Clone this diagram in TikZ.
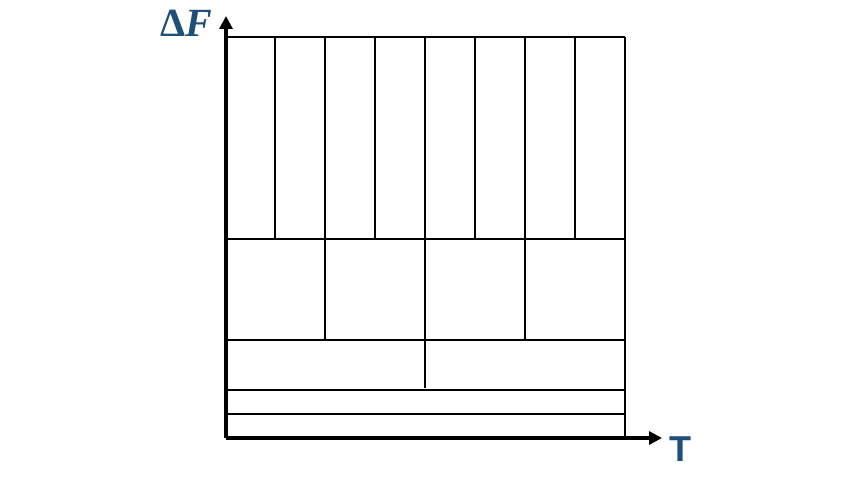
\documentclass[tikz,border=0pt]{standalone}
\usepackage{amsmath,amssymb}
\usepackage{fontspec}
\usepackage{xcolor}
\usetikzlibrary{positioning,arrows.meta,calc}
\newfontfamily\axisfont{Liberation Sans}
\newfontfamily\dffont{Liberation Serif}
\definecolor{lbl}{RGB}{31,78,121}

\begin{document}
\begin{tikzpicture}[x=1pt,y=-1pt,>={Triangle[length=13pt,width=13pt]},
  axs/.style={line width=3.2pt,->},
  grd/.style={line width=1.5pt},
  lbls/.style={text=lbl,inner sep=0pt}]
  \useasboundingbox (0,0) rectangle (850,478);
  % axes
  \coordinate (o) at (226,438);
  \coordinate (ytip) at (226,16);
  \coordinate (xtip) at (662,438);
  \draw[axs] (o)--(ytip);
  \draw[axs] (o)--(xtip);
  \node[lbls,font=\dffont\bfseries\fontsize{40}{42}\selectfont] (yl) at (186,23) {Δ\textit{F}};
  \node[lbls,font=\axisfont\bfseries\fontsize{36}{38}\selectfont] (xl) at (680,449) {T};
  % horizontal levels
  \foreach \y in {37,239,340,390,414}
    \draw[grd] (226,\y)--(625,\y);
  \draw[grd] (625,37)--(625,436);
  % splits
  \foreach \x in {275,325,...,575}
    \draw[grd] (\x,37)--(\x,239);
  \foreach \x in {325,425,525}
    \draw[grd] (\x,239)--(\x,340);
  \draw[grd] (425,340)--(425,388);
\end{tikzpicture}
\end{document}
